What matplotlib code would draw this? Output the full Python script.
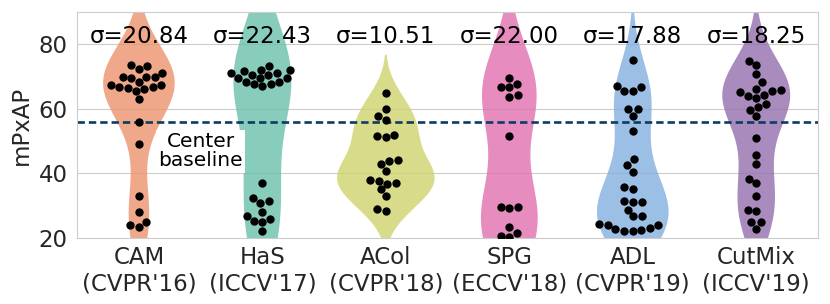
import numpy as np
import pandas as pd
import matplotlib
matplotlib.use("Agg")
import matplotlib.pyplot as plt
import seaborn as sns

# ---------------------------------------------- data ----------------------------------------------
methods = ["CAM\n(CVPR'16)", "HaS\n(ICCV'17)", "ACol\n(CVPR'18)",
           "SPG\n(ECCV'18)", "ADL\n(CVPR'19)", "CutMix\n(ICCV'19)"]
sigmas = ["20.84", "22.43", "10.51", "22.00", "17.88", "18.25"]

cam = [73.6, 73.2, 72.5, 71.1, 70.0, 70.0, 70.0, 69.6, 68.4, 67.5, 67.3, 66.9,
       66.5, 66.2, 66.7, 65.4, 63.0, 56.0, 49.0, 33.0, 28.2, 25.0, 24.0, 23.5]
has = [73.2, 72.1, 72.1, 71.1, 70.6, 70.6, 69.7, 69.5, 69.5, 68.4, 68.4, 67.7,
       67.7, 67.0, 71.0, 71.6, 37.0, 32.3, 31.4, 30.7, 28.2, 26.8, 26.0, 25.3, 25.0, 22.2]
acol = [64.9, 60.0, 57.9, 56.7, 51.9, 51.7, 51.2, 44.1, 43.8, 42.8, 40.7, 38.1,
        37.6, 37.0, 36.8, 35.1, 33.0, 29.0, 28.4]
spg = [69.7, 67.8, 66.7, 66.7, 64.4, 63.8, 51.7, 29.6, 29.6, 29.3, 23.5, 21.6, 20.4, 20.6]
adl = [75.1, 67.0, 66.7, 65.6, 65.6, 60.0, 60.0, 57.9, 53.1, 44.4, 42.6, 40.6, 35.9, 35.1,
       31.5, 31.3, 31.2, 28.8, 26.7, 26.7, 24.3, 24.0, 24.0, 23.2, 22.7, 22.5, 22.2, 22.2]
cutmix = [74.9, 73.6, 70.8, 68.2, 66.3, 65.7, 65.6, 65.2, 64.3, 64.1, 63.4, 61.6, 60.7,
          59.6, 57.9, 50.9, 45.6, 43.0, 38.4, 36.9, 33.0, 28.6, 28.4, 24.9, 24.9, 22.8]

center_baseline = 55.8

# ---------------------------------------------- styling ----------------------------------------------
colors = ["#EB936D", "#6AC0AB", "#CFD36D", "#E070B0", "#84AFE0", "#946EAE"]
violin_widths = [0.58, 0.47, 0.79, 0.46, 0.58, 0.55]   # widest point of each violin, in category units
bw_adjust = [1.15, 1.5, 1.0, 1.1, 1.1, 1.05]            # kde smoothing per violin

scores = [cam, has, acol, spg, adl, cutmix]
df = pd.DataFrame({
    "method": np.repeat(methods, [len(s) for s in scores]),
    "mPxAP": np.concatenate(scores),
})

sns.set_style("whitegrid")
plt.rcParams["font.family"] = ["DejaVu Sans"]

fig = plt.figure(figsize=(8.3, 3.04), dpi=100)
ax = fig.add_axes([0.093, 0.217, 0.8925, 0.7435])

# points first (sets up the categorical axis)
sns.swarmplot(data=df, x="method", y="mPxAP", order=methods, color="black", size=6,
              ax=ax, zorder=3)

# violins: gaussian kde with scott bandwidth, tails cut at 2 bandwidths
for i, vals in enumerate(scores):
    v = np.asarray(vals)
    bw = bw_adjust[i] * len(v) ** (-1 / 5) * v.std(ddof=1)
    yy = np.linspace(v.min() - 2 * bw, v.max() + 2 * bw, 400)
    dens = np.exp(-0.5 * ((yy[:, None] - v[None, :]) / bw) ** 2).sum(axis=1)
    half = dens / dens.max() * violin_widths[i] / 2
    ax.fill_betweenx(yy, i - half, i + half, facecolor=colors[i], edgecolor="none",
                     alpha=0.8, zorder=1)

# center baseline
ax.axhline(center_baseline, color="#0b3d63", lw=1.9, ls=(0, (2.8, 1.5)), zorder=1.5)

# sigma labels above each violin
for i, s in enumerate(sigmas):
    ax.text(i, 82.4, "\u03c3=" + s, ha="center", va="center", fontsize=16.5, color="black", zorder=4)

ax.text(0.5, 46.8, "Center\nbaseline", ha="center", va="center", fontsize=14.5, color="black",
        linespacing=1.0, zorder=2.5,
        bbox=dict(boxstyle="square,pad=0.1", facecolor="white", edgecolor="none"))

ax.set_ylim(20, 90)
ax.set_xlim(-0.5, 5.5)
ax.set_yticks([20, 40, 60, 80])
ax.set_xlabel("")
ax.set_ylabel("mPxAP", fontsize=16.5)
ax.tick_params(axis="both", labelsize=16.5)
ax.tick_params(axis="x", pad=2)

fig.savefig("out.png", dpi=100)
